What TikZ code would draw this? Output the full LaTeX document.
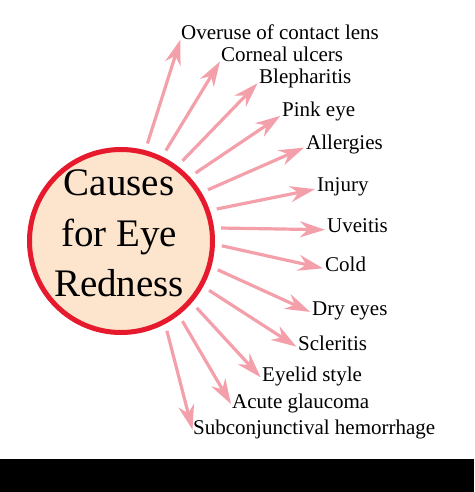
\documentclass[tikz,border=0pt]{standalone}
\usepackage{fontspec}
\setmainfont{Liberation Serif}
\usepackage{tikz}
\usetikzlibrary{arrows.meta}
\definecolor{eyered}{RGB}{230,25,45}
\definecolor{peach}{RGB}{252,229,204}
\definecolor{rosy}{RGB}{244,160,170}
\tikzset{
	cause/.style={anchor=base west, inner sep=0pt, font=\fontsize{21}{25}\selectfont, text height=0.7em, text depth=0.25em},
	ray/.style={rosy, line width=3.2pt, -{Stealth[length=25pt,width=16pt,inset=8pt]}, shorten <=7pt, shorten >=2pt}
}

\begin{document}
\begin{tikzpicture}[x=1pt,y=-1pt]
	\useasboundingbox (0,0) rectangle (474,492);
	\fill[black] (0,459) rectangle (474,492);
	\node[circle, draw=eyered, fill=peach, line width=5pt, minimum size=183pt, inner sep=0pt] (eye) at (121,241) {};
	\node[align=center, inner sep=0pt, font=\fontsize{39}{50.5}\selectfont] (title) at (119,233.3) {Causes\\for Eye\\Redness};
	% causes
	\node[cause] (overuse) at (181,40) {Overuse of contact lens};
	\node[cause] (corneal) at (221,62) {Corneal ulcers};
	\node[cause] (bleph) at (259,84) {Blepharitis};
	\node[cause] (pink) at (282,117) {Pink eye};
	\node[cause] (allergy) at (306,149) {Allergies};
	\node[cause] (injury) at (317,191) {Injury};
	\node[cause] (uveitis) at (327,232) {Uveitis};
	\node[cause] (cold) at (325,271) {Cold};
	\node[cause] (dry) at (312,315) {Dry eyes};
	\node[cause] (scler) at (298,350) {Scleritis};
	\node[cause] (eyelid) at (262,381) {Eyelid style};
	\node[cause] (glauc) at (232,408) {Acute glaucoma};
	\node[cause] (hemor) at (193,434) {Subconjunctival hemorrhage};
	% rays
	\path[ray]
	(eye.75) edge (overuse.west)
	(eye.64) edge (corneal.west)
	(eye.53) edge (bleph.west)
	(eye.43) edge (pink.west)
	(eye.31) edge (allergy.west)
	(eye.19) edge (injury.west)
	(eye.8) edge (uveitis.west)
	(eye.-2) edge (cold.west)
	(eye.-16) edge (dry.west)
	(eye.-29) edge (scler.west)
	(eye.-41) edge (eyelid.west)
	(eye.-52) edge (glauc.west)
	(eye.-62) edge (hemor.west);
\end{tikzpicture}
\end{document}
